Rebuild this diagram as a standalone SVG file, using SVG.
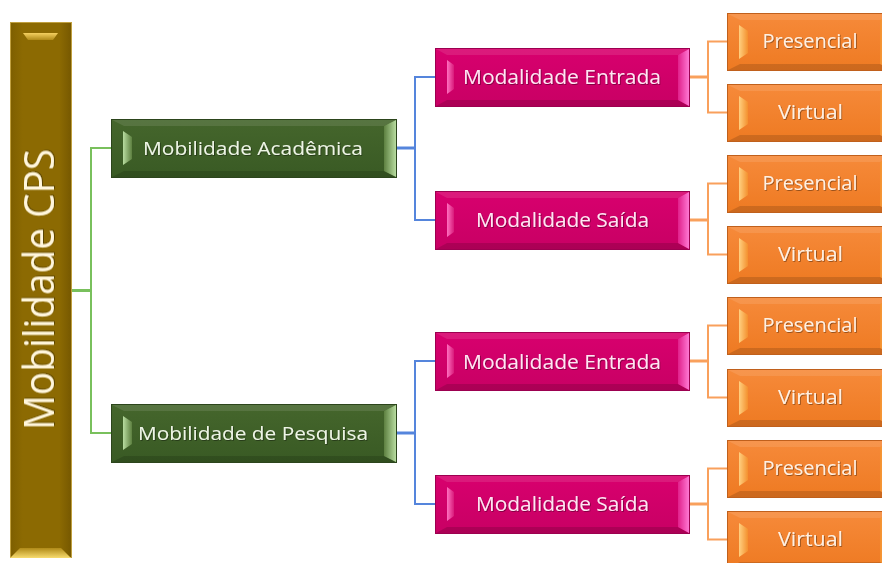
<svg xmlns="http://www.w3.org/2000/svg" width="882" height="563" viewBox="0 0 882 563">
<defs>
<style>
.t{font-family:"Open Sans","Noto Sans","Liberation Sans",sans-serif;text-anchor:middle;filter:url(#ts)}
.gt{font-size:19px;fill:#eef5e6}
.pt{font-size:20px;fill:#ffe6f3}
.ot{font-size:20px;fill:#fff0e2}
.rt{font-size:42px;fill:#fff6dc}
.cg{stroke:#79c05c;fill:none;stroke-width:2}
.cb{stroke:#5585dc;fill:none;stroke-width:2}
.co{stroke:#f9a05c;fill:none;stroke-width:2}
.stub{stroke-width:3}
.gb{fill:url(#gG);stroke:#2c451c;stroke-width:1}
.pb{fill:url(#gP);stroke:#9c0050;stroke-width:1}
.ob{fill:url(#gO);stroke:#c0601c;stroke-width:1}
.rb{fill:url(#gR);stroke:#c0a040;stroke-width:1}
.ts{fill:#ffffff;opacity:0.10}
.bs{fill:#000000;opacity:0.14}
</style>
<filter id="ts" x="-5%" y="-20%" width="110%" height="140%">
<feDropShadow dx="0.8" dy="0.8" stdDeviation="0.6" flood-color="#000" flood-opacity="0.45"/>
</filter>
<linearGradient id="gG" x1="0" y1="0" x2="0" y2="1"><stop offset="0" stop-color="#45662c"/><stop offset="1" stop-color="#395a24"/></linearGradient>
<linearGradient id="gP" x1="0" y1="0" x2="0" y2="1"><stop offset="0" stop-color="#d8006e"/><stop offset="1" stop-color="#c80064"/></linearGradient>
<linearGradient id="gO" x1="0" y1="0" x2="0" y2="1"><stop offset="0" stop-color="#f68a3a"/><stop offset="1" stop-color="#ee7a22"/></linearGradient>
<linearGradient id="gR" x1="0" y1="0" x2="1" y2="0"><stop offset="0" stop-color="#7e5f00"/><stop offset="0.2" stop-color="#8c6a02"/><stop offset="0.8" stop-color="#8c6a02"/><stop offset="1" stop-color="#765800"/></linearGradient>
<linearGradient id="hGl" x1="0" y1="0" x2="1" y2="0"><stop offset="0" stop-color="#b8dca0"/><stop offset="1" stop-color="#5d8040"/></linearGradient>
<linearGradient id="hGr" x1="0" y1="0" x2="1" y2="0"><stop offset="0" stop-color="#5d8040"/><stop offset="1" stop-color="#b8dca0"/></linearGradient>
<linearGradient id="hPl" x1="0" y1="0" x2="1" y2="0"><stop offset="0" stop-color="#ff70c0"/><stop offset="1" stop-color="#d81a7a"/></linearGradient>
<linearGradient id="hPr" x1="0" y1="0" x2="1" y2="0"><stop offset="0" stop-color="#e0208a"/><stop offset="1" stop-color="#ff78d4"/></linearGradient>
<linearGradient id="hOl" x1="0" y1="0" x2="1" y2="0"><stop offset="0" stop-color="#ffd080"/><stop offset="1" stop-color="#f4902e"/></linearGradient>
<linearGradient id="hOr" x1="0" y1="0" x2="1" y2="0"><stop offset="0" stop-color="#f4902e"/><stop offset="1" stop-color="#ffc070"/></linearGradient>
<linearGradient id="hRt" x1="0" y1="0" x2="0" y2="1"><stop offset="0" stop-color="#f4d060"/><stop offset="1" stop-color="#b08a18"/></linearGradient>
<linearGradient id="hRb" x1="0" y1="0" x2="0" y2="1"><stop offset="0" stop-color="#b08a18"/><stop offset="1" stop-color="#f8dc70"/></linearGradient>
</defs>
<rect width="882" height="563" fill="#ffffff"/>

<g id="connectors">
<path class="cg stub" d="M71 290.5H91"/>
<path class="cg" d="M111 148H91V433H111"/>
<path class="cb stub" d="M396 148H415"/>
<path class="cb" d="M435 77H415V220H435"/>
<path class="cb stub" d="M396 433H415"/>
<path class="cb" d="M435 361H415V504H435"/>
<path class="co stub" d="M689 77H708"/>
<path class="co" d="M727 41.5H708V112.5H727"/>
<path class="co stub" d="M689 220H708"/>
<path class="co" d="M727 183.5H708V254.5H727"/>
<path class="co stub" d="M689 361H708"/>
<path class="co" d="M727 325.5H708V397.5H727"/>
<path class="co stub" d="M689 504H708"/>
<path class="co" d="M727 468.5H708V539.5H727"/>
</g>

<g id="root">
<rect class="rb" x="10.5" y="22.5" width="61" height="535"/>
<polygon points="23,33 58,33 53,40 28,40" fill="url(#hRt)"/>
<polygon points="20,548 61,548 71,558 10,558" fill="url(#hRb)"/>
<text class="t rt" transform="translate(54,289.5) rotate(-90)" textLength="281" lengthAdjust="spacingAndGlyphs">Mobilidade CPS</text>
</g>

<g id="g1">
<rect class="gb" x="111.5" y="119.5" width="285" height="58"/>
<polygon class="ts" points="112,120 396,120 384,126 124,126"/>
<polygon class="bs" points="124,171 384,171 396,177 112,177"/>
<polygon points="123,131 132,137 132,159 123,165" fill="url(#hGl)"/>
<polygon points="384,126 396,120 396,177 384,171" fill="url(#hGr)"/>
<text class="t gt" x="253" y="155" textLength="220" lengthAdjust="spacingAndGlyphs">Mobilidade Acadêmica</text>
</g>
<g id="g2">
<rect class="gb" x="111.5" y="404.5" width="285" height="58"/>
<polygon class="ts" points="112,405 396,405 384,411 124,411"/>
<polygon class="bs" points="124,456 384,456 396,462 112,462"/>
<polygon points="123,416 132,422 132,444 123,450" fill="url(#hGl)"/>
<polygon points="384,411 396,405 396,462 384,456" fill="url(#hGr)"/>
<text class="t gt" x="253" y="440" textLength="230" lengthAdjust="spacingAndGlyphs">Mobilidade de Pesquisa</text>
</g>

<g id="p1">
<rect class="pb" x="435.5" y="48.5" width="254" height="58"/>
<polygon class="ts" points="436,49 689,49 678,55 447,55"/>
<polygon class="bs" points="447,100 678,100 689,106 436,106"/>
<polygon points="447,60 454,65 454,89 447,94" fill="url(#hPl)"/>
<polygon points="678,55 689,49 689,106 678,100" fill="url(#hPr)"/>
<text class="t pt" x="562" y="84" textLength="198" lengthAdjust="spacingAndGlyphs">Modalidade Entrada</text>
</g>
<g id="p2">
<rect class="pb" x="435.5" y="191.5" width="254" height="58"/>
<polygon class="ts" points="436,192 689,192 678,198 447,198"/>
<polygon class="bs" points="447,243 678,243 689,249 436,249"/>
<polygon points="447,203 454,208 454,232 447,237" fill="url(#hPl)"/>
<polygon points="678,198 689,192 689,249 678,243" fill="url(#hPr)"/>
<text class="t pt" x="562.5" y="227" textLength="173" lengthAdjust="spacingAndGlyphs">Modalidade Saída</text>
</g>
<g id="p3">
<rect class="pb" x="435.5" y="332.5" width="254" height="58"/>
<polygon class="ts" points="436,333 689,333 678,339 447,339"/>
<polygon class="bs" points="447,384 678,384 689,390 436,390"/>
<polygon points="447,344 454,349 454,373 447,378" fill="url(#hPl)"/>
<polygon points="678,339 689,333 689,390 678,384" fill="url(#hPr)"/>
<text class="t pt" x="562" y="369" textLength="198" lengthAdjust="spacingAndGlyphs">Modalidade Entrada</text>
</g>
<g id="p4">
<rect class="pb" x="435.5" y="475.5" width="254" height="58"/>
<polygon class="ts" points="436,476 689,476 678,482 447,482"/>
<polygon class="bs" points="447,527 678,527 689,533 436,533"/>
<polygon points="447,487 454,492 454,516 447,521" fill="url(#hPl)"/>
<polygon points="678,482 689,476 689,533 678,527" fill="url(#hPr)"/>
<text class="t pt" x="562.5" y="511" textLength="173" lengthAdjust="spacingAndGlyphs">Modalidade Saída</text>
</g>

<g id="o1">
<rect class="ob" x="727.5" y="13.5" width="166" height="57"/>
<polygon class="ts" points="728,14 893,14 881,20 740,20"/>
<polygon class="bs" points="740,64 881,64 893,70 728,70"/>
<polygon points="739,25 748,31 748,53 739,59" fill="url(#hOl)"/>
<polygon points="880,20 892,14 892,70 880,64" fill="url(#hOr)"/>
<text class="t ot" x="810" y="48" textLength="95" lengthAdjust="spacingAndGlyphs">Presencial</text>
</g>
<g id="o2">
<rect class="ob" x="727.5" y="84.5" width="166" height="57"/>
<polygon class="ts" points="728,85 893,85 881,91 740,91"/>
<polygon class="bs" points="740,135 881,135 893,141 728,141"/>
<polygon points="739,96 748,102 748,124 739,130" fill="url(#hOl)"/>
<polygon points="880,91 892,85 892,141 880,135" fill="url(#hOr)"/>
<text class="t ot" x="810.5" y="119" textLength="65" lengthAdjust="spacingAndGlyphs">Virtual</text>
</g>
<g id="o3">
<rect class="ob" x="727.5" y="155.5" width="166" height="57"/>
<polygon class="ts" points="728,156 893,156 881,162 740,162"/>
<polygon class="bs" points="740,206 881,206 893,212 728,212"/>
<polygon points="739,167 748,173 748,195 739,201" fill="url(#hOl)"/>
<polygon points="880,162 892,156 892,212 880,206" fill="url(#hOr)"/>
<text class="t ot" x="810" y="190" textLength="95" lengthAdjust="spacingAndGlyphs">Presencial</text>
</g>
<g id="o4">
<rect class="ob" x="727.5" y="226.5" width="166" height="57"/>
<polygon class="ts" points="728,227 893,227 881,233 740,233"/>
<polygon class="bs" points="740,277 881,277 893,283 728,283"/>
<polygon points="739,238 748,244 748,266 739,272" fill="url(#hOl)"/>
<polygon points="880,233 892,227 892,283 880,277" fill="url(#hOr)"/>
<text class="t ot" x="810.5" y="261" textLength="65" lengthAdjust="spacingAndGlyphs">Virtual</text>
</g>
<g id="o5">
<rect class="ob" x="727.5" y="297.5" width="166" height="57"/>
<polygon class="ts" points="728,298 893,298 881,304 740,304"/>
<polygon class="bs" points="740,348 881,348 893,354 728,354"/>
<polygon points="739,309 748,315 748,337 739,343" fill="url(#hOl)"/>
<polygon points="880,304 892,298 892,354 880,348" fill="url(#hOr)"/>
<text class="t ot" x="810" y="332" textLength="95" lengthAdjust="spacingAndGlyphs">Presencial</text>
</g>
<g id="o6">
<rect class="ob" x="727.5" y="369.5" width="166" height="57"/>
<polygon class="ts" points="728,370 893,370 881,376 740,376"/>
<polygon class="bs" points="740,420 881,420 893,426 728,426"/>
<polygon points="739,381 748,387 748,409 739,415" fill="url(#hOl)"/>
<polygon points="880,376 892,370 892,426 880,420" fill="url(#hOr)"/>
<text class="t ot" x="810.5" y="404" textLength="65" lengthAdjust="spacingAndGlyphs">Virtual</text>
</g>
<g id="o7">
<rect class="ob" x="727.5" y="440.5" width="166" height="57"/>
<polygon class="ts" points="728,441 893,441 881,447 740,447"/>
<polygon class="bs" points="740,491 881,491 893,497 728,497"/>
<polygon points="739,452 748,458 748,480 739,486" fill="url(#hOl)"/>
<polygon points="880,447 892,441 892,497 880,491" fill="url(#hOr)"/>
<text class="t ot" x="810" y="475" textLength="95" lengthAdjust="spacingAndGlyphs">Presencial</text>
</g>
<g id="o8">
<rect class="ob" x="727.5" y="511.5" width="166" height="57"/>
<polygon class="ts" points="728,512 893,512 881,518 740,518"/>
<polygon class="bs" points="740,562 881,562 893,568 728,568"/>
<polygon points="739,523 748,529 748,551 739,557" fill="url(#hOl)"/>
<polygon points="880,518 892,512 892,568 880,562" fill="url(#hOr)"/>
<text class="t ot" x="810.5" y="546" textLength="65" lengthAdjust="spacingAndGlyphs">Virtual</text>
</g>
</svg>
